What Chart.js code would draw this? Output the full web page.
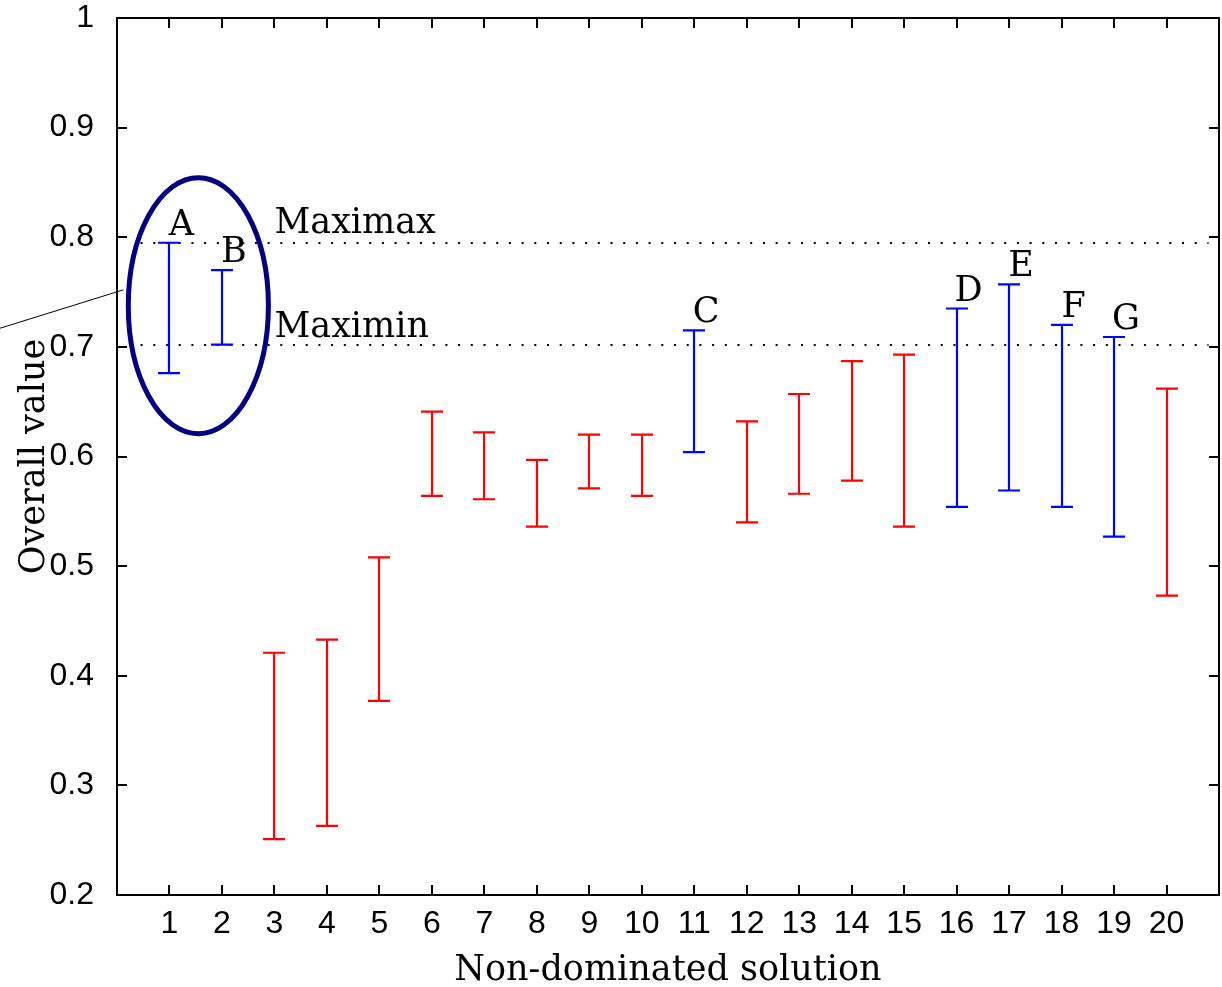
<!DOCTYPE html>
<html>
<head>
<meta charset="utf-8">
<script src="https://cdn.jsdelivr.net/npm/chart.js"></script>
<style>
  html, body { margin: 0; padding: 0; background: #fff; }
  #wrap { width: 1222px; height: 987px; position: relative; }
</style>
</head>
<body>
<div id="wrap"><canvas id="c" width="1222" height="987"></canvas></div>
<script>
// ---- data ----
const solutions = [1,2,3,4,5,6,7,8,9,10,11,12,13,14,15,16,17,18,19,20];
const upperValues = [0.795,0.770,0.421,0.433,0.508,0.641,0.622,0.597,0.620,0.620,0.715,0.632,0.657,0.687,0.693,0.735,0.757,0.720,0.709,0.662];
const lowerValues = [0.676,0.702,0.251,0.263,0.377,0.564,0.561,0.536,0.571,0.564,0.604,0.540,0.566,0.578,0.536,0.554,0.569,0.554,0.527,0.473];
const labelledSolutions = [1,2,11,16,17,18,19];
const labelLetters = ['A','B','C','D','E','F','G'];
const maximaxValue = 0.795;
const maximinValue = 0.702;
const yTickValues = [0.2,0.3,0.4,0.5,0.6,0.7,0.8,0.9,1];
const xTickLabels = ['1','2','3','4','5','6','7','8','9','10','11','12','13','14','15','16','17','18','19','20'];
// annotation ellipse (data units) and pointer line
const ellipseCenter = [1.55, 0.7375];
const ellipseRadii = [1.335, 0.1168];
const pointerLine = [[-2.23, 0.717], [0.12, 0.752]];

const SERIF = '"DejaVu Serif", serif';
const SANS = '"Liberation Sans", Arial, sans-serif';
const RED = '#ff0000', BLUE = '#0000ff';

const drawPlugin = {
  id: 'errbars',
  afterDatasetsDraw(chart) {
    const ctx = chart.ctx;
    const xs = chart.scales.x, ys = chart.scales.y;
    const a = chart.chartArea;
    ctx.save();
    // dotted reference lines
    ctx.strokeStyle = '#000';
    ctx.lineWidth = 2;
    ctx.setLineDash([2, 10.7]);
    [maximaxValue, maximinValue].forEach(v => {
      const y = Math.round(ys.getPixelForValue(v));
      ctx.beginPath();
      ctx.moveTo(xs.getPixelForValue(0.45), y);
      ctx.lineTo(xs.getPixelForValue(20.8), y);
      ctx.stroke();
    });
    ctx.setLineDash([]);
    // error bars
    const cap = 11;
    solutions.forEach((s, i) => {
      const x = Math.round(xs.getPixelForValue(s));
      const yt = ys.getPixelForValue(upperValues[i]);
      const yb = ys.getPixelForValue(lowerValues[i]);
      ctx.strokeStyle = labelledSolutions.includes(s) ? BLUE : RED;
      ctx.lineWidth = 2.2;
      ctx.beginPath();
      ctx.moveTo(x, yt); ctx.lineTo(x, yb);
      ctx.moveTo(x - cap, yt); ctx.lineTo(x + cap, yt);
      ctx.moveTo(x - cap, yb); ctx.lineTo(x + cap, yb);
      ctx.stroke();
    });
    // letters
    ctx.fillStyle = '#000';
    ctx.font = '35px ' + SERIF;
    ctx.textAlign = 'center';
    ctx.textBaseline = 'alphabetic';
    labelledSolutions.forEach((s, k) => {
      const i = solutions.indexOf(s);
      const x = xs.getPixelForValue(s) + 12;
      const y = ys.getPixelForValue(upperValues[i]) - 8;
      ctx.fillText(labelLetters[k], x, y);
    });
    ctx.textAlign = 'left';
    ctx.fillText('Maximax', xs.getPixelForValue(3), ys.getPixelForValue(maximaxValue) - 10);
    ctx.fillText('Maximin', xs.getPixelForValue(3), ys.getPixelForValue(maximinValue) - 8);
    // ellipse
    ctx.strokeStyle = '#000080';
    ctx.lineWidth = 5;
    const cx = xs.getPixelForValue(ellipseCenter[0]);
    const cy = ys.getPixelForValue(ellipseCenter[1]);
    const rx = Math.abs(xs.getPixelForValue(ellipseCenter[0] + ellipseRadii[0]) - cx);
    const ry = Math.abs(ys.getPixelForValue(ellipseCenter[1] + ellipseRadii[1]) - cy);
    ctx.beginPath();
    ctx.ellipse(cx, cy, rx, ry, 0, 0, Math.PI * 2);
    ctx.stroke();
    // pointer line
    ctx.strokeStyle = '#000';
    ctx.lineWidth = 1;
    ctx.beginPath();
    ctx.moveTo(xs.getPixelForValue(pointerLine[0][0]), ys.getPixelForValue(pointerLine[0][1]));
    ctx.lineTo(xs.getPixelForValue(pointerLine[1][0]), ys.getPixelForValue(pointerLine[1][1]));
    ctx.stroke();
    // box and inward ticks
    ctx.strokeStyle = '#000';
    ctx.lineWidth = 2;
    ctx.strokeRect(a.left, a.top, a.right - a.left, a.bottom - a.top);
    const tl = 10;
    ctx.beginPath();
    solutions.forEach(s => {
      const x = Math.round(xs.getPixelForValue(s));
      ctx.moveTo(x, a.bottom); ctx.lineTo(x, a.bottom - tl);
      ctx.moveTo(x, a.top); ctx.lineTo(x, a.top + tl);
    });
    yTickValues.forEach(v => {
      const y = Math.round(ys.getPixelForValue(v));
      ctx.moveTo(a.left, y); ctx.lineTo(a.left + tl, y);
      ctx.moveTo(a.right, y); ctx.lineTo(a.right - tl, y);
    });
    ctx.stroke();
    ctx.restore();
  }
};

new Chart(document.getElementById('c'), {
  type: 'scatter',
  data: { datasets: [{ data: solutions.map((s, i) => ({ x: s, y: upperValues[i] })), pointRadius: 0, showLine: false }] },
  options: {
    responsive: false,
    animation: false,
    layout: { padding: { top: 18, right: 3, left: 0, bottom: 0 } },
    plugins: { legend: { display: false }, tooltip: { enabled: false } },
    scales: {
      x: {
        type: 'linear', min: 0, max: 21,
        afterFit(s) { s.height = 92; s.paddingLeft = 0; s.paddingRight = 0; },
        afterBuildTicks(s) { s.ticks = solutions.map(v => ({ value: v })); },
        ticks: {
          autoSkip: false, maxRotation: 0, padding: 2, color: '#000',
          font: { family: SANS, size: 32 },
          callback: (v) => xTickLabels[solutions.indexOf(v)] ?? ''
        },
        grid: { display: false },
        border: { display: false },
        title: { display: true, text: 'Non-dominated solution', color: '#000', font: { family: SERIF, size: 35, lineHeight: 1 }, padding: { top: 0, bottom: -1 } }
      },
      y: {
        type: 'linear', min: 0.2, max: 1,
        afterFit(s) { s.width = 117; s.paddingTop = 0; s.paddingBottom = 0; },
        afterBuildTicks(s) { s.ticks = yTickValues.map(v => ({ value: v })); },
        ticks: {
          padding: 15, color: '#000',
          font: { family: SANS, size: 32 },
          callback: (v) => String(+v.toFixed(1))
        },
        grid: { display: false },
        border: { display: false },
        title: { display: true, text: 'Overall value', color: '#000', font: { family: SERIF, size: 35, lineHeight: 1 }, padding: { top: 17, bottom: 0 } }
      }
    }
  },
  plugins: [drawPlugin]
});
</script>
</body>
</html>
